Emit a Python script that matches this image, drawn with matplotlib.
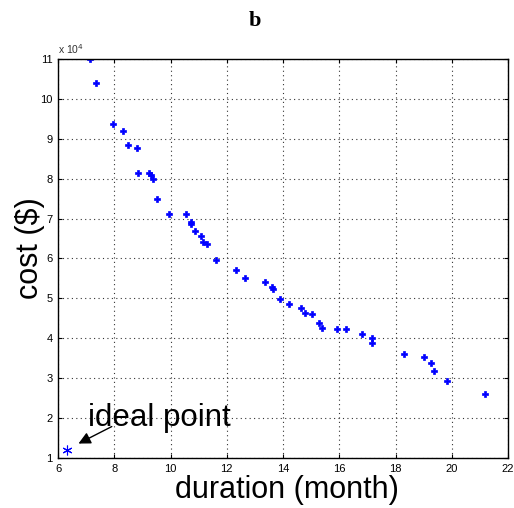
import matplotlib
matplotlib.use("Agg")
import matplotlib.pyplot as plt

# Pareto front (cost in units of 1e4 $)
duration = [7.14, 7.34, 7.96, 8.32, 8.50, 8.81, 8.83, 9.24, 9.32, 9.39,
            9.52, 9.95, 10.56, 10.73, 10.74, 10.86, 11.07, 11.14, 11.30, 11.60,
            12.33, 12.66, 13.37, 13.61, 13.64, 13.89, 14.22, 14.63, 14.78, 15.03,
            15.29, 15.38, 15.92, 16.23, 16.82, 17.16, 17.16, 18.30, 19.01, 19.25,
            19.37, 19.83, 21.18]
cost = [11.0, 10.39, 9.36, 9.20, 8.85, 8.76, 8.15, 8.14, 8.10, 8.00,
        7.49, 7.11, 7.11, 6.92, 6.86, 6.69, 6.57, 6.42, 6.36, 5.96,
        5.70, 5.50, 5.40, 5.29, 5.24, 4.98, 4.85, 4.75, 4.63, 4.60,
        4.39, 4.27, 4.24, 4.24, 4.12, 4.00, 3.89, 3.61, 3.54, 3.37,
        3.17, 2.93, 2.61]

ideal_duration = 6.33
ideal_cost = 1.20

xticks = [6, 8, 10, 12, 14, 16, 18, 20, 22]
yticks = [1, 2, 3, 4, 5, 6, 7, 8, 9, 10, 11]

plt.rcParams['font.family'] = ['Liberation Sans', 'DejaVu Sans']

fig = plt.figure(figsize=(5.14, 5.08), dpi=100)
ax = fig.add_axes([58/514, 50/508, 450/514, 399/508])

ax.plot(duration, cost, linestyle='none', marker='P', markersize=4,
        color='blue', markeredgecolor='blue', markeredgewidth=0.5)
ax.plot([ideal_duration], [ideal_cost], linestyle='none', marker=(6, 2, 0),
        markersize=7, color='blue', markeredgewidth=0.8)

ax.set_xlim(6, 22)
ax.set_ylim(1, 11)
ax.set_xticks(xticks)
ax.set_yticks(yticks)
ax.tick_params(direction='in', length=3, labelsize=8, top=True, right=True,
               labeltop=False, labelright=False, pad=4)
ax.grid(True, linestyle=(0, (1, 3)), color='#333333', linewidth=0.8)
for s in ax.spines.values():
    s.set_linewidth(1.0)

ax.text(0, 1.008, r'x 10$^{4}$', transform=ax.transAxes, fontsize=7.5,
        ha='left', va='bottom', color='#333333')

# arrow and label for the ideal point
ax.annotate('', xy=(6.64, 1.33), xytext=(8.0, 1.82),
            arrowprops=dict(arrowstyle='-|>', color='black', lw=1.0,
                            mutation_scale=18))
ax.text(7.07, 1.80, 'ideal point', fontsize=22.5, ha='left', va='baseline')

fig.text(286.7/514, (508-497.7)/508, 'duration (month)', fontsize=22,
         ha='center', va='baseline')
fig.text(30/514, (508-248.5)/508, 'cost ($)', fontsize=22, rotation=90,
         ha='center', va='center')
fig.text(255/514, (508-26)/508, 'b', fontsize=16, fontweight='bold',
         family='Liberation Serif', ha='center', va='baseline')

fig.savefig('out.png', dpi=100)
